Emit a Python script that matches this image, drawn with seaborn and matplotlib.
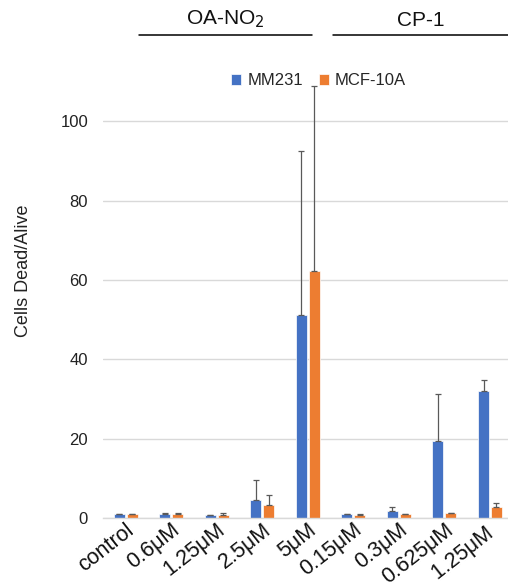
import matplotlib
matplotlib.use("Agg")
import matplotlib.pyplot as plt
import seaborn as sns
import pandas as pd
import numpy as np

categories = ["control", "0.6μM", "1.25μM", "2.5μM", "5μM", "0.15μM", "0.3μM", "0.625μM", "1.25μM "]
series = ["MM231", "MCF-10A"]
mm231 = [1.0, 1.0, 0.7, 4.5, 51.2, 0.9, 1.85, 19.3, 31.9]
mcf10a = [1.0, 1.0, 0.7, 3.3, 62.3, 0.7, 0.9, 1.2, 2.8]
mm231_err = [0.1, 0.2, 0.1, 5.2, 41.2, 0.1, 1.05, 11.9, 2.9]
mcf10a_err = [0.1, 0.15, 0.5, 2.6, 46.5, 0.4, 0.1, 0.1, 1.0]
colors = ["#4472C4", "#ED7D31"]

df = pd.DataFrame({
    "cat": categories * 2,
    "series": [series[0]] * len(categories) + [series[1]] * len(categories),
    "value": mm231 + mcf10a,
})

sns.set_theme(style="white")
plt.rcParams["font.family"] = ["Liberation Sans", "DejaVu Sans"]

fig = plt.figure(figsize=(5.08, 5.86), dpi=100)
ax = fig.add_axes([0.2028, 0.116, 0.7972, 0.7447])

sns.barplot(data=df, x="cat", y="value", hue="series", order=categories,
            hue_order=series, palette=colors, width=0.57, gap=0.15,
            errorbar=None, ax=ax, saturation=1, legend=True,
            edgecolor="white", linewidth=0.5)

# error bars (upward only)
errs = {series[0]: mm231_err, series[1]: mcf10a_err}
vals = {series[0]: mm231, series[1]: mcf10a}
n = len(categories)
patches = list(ax.patches)[:2 * n]
for si, s in enumerate(series):
    ps = patches[si * n:(si + 1) * n]
    xs = [p.get_x() + p.get_width() / 2 for p in ps]
    ax.errorbar(xs, vals[s], yerr=[np.zeros(n), errs[s]], fmt="none",
                ecolor="#595959", elinewidth=0.9, capsize=2.5, capthick=0.9, zorder=3)

ax.set_xlim(-0.494, 8.395)
ax.set_ylim(0, 110)
ax.set_yticks([0, 20, 40, 60, 80, 100])
ax.yaxis.grid(True, color="#d9d9d9", linewidth=1)
ax.set_axisbelow(True)
for sp in ["top", "right", "left"]:
    ax.spines[sp].set_visible(False)
ax.spines["bottom"].set_color("#d9d9d9")
ax.spines["bottom"].set_linewidth(1)
ax.tick_params(axis="y", length=0, labelsize=12, labelcolor="#222222", pad=10.8)
ax.tick_params(axis="x", length=0, labelsize=15.5, labelcolor="#111111", pad=1)
plt.setp(ax.get_xticklabels(), rotation=38, ha="right", rotation_mode="anchor")
ax.set_xlabel("")
ax.set_ylabel("Cells Dead/Alive", fontsize=13, color="#222222")
ax.yaxis.set_label_coords(-0.176, 0.566)

leg = ax.legend(loc="center", bbox_to_anchor=(0.627, 0.862), bbox_transform=fig.transFigure,
                ncol=2, frameon=False, fontsize=12, handlelength=0.6, handleheight=0.6,
                handletextpad=0.35, columnspacing=0.95, borderpad=0)

# group annotations
trans = matplotlib.transforms.blended_transform_factory(ax.transData, fig.transFigure)
groups = [("OA-NO$_2$", 0.30, 4.09), ("CP-1", 4.55, 8.39)]
for label, x0, x1 in groups:
    ax.plot([x0, x1], [1 - 35 / 586, 1 - 35 / 586], transform=trans, color="black", lw=1.1, clip_on=False)
    ax.text((x0 + x1) / 2, 1 - 30 / 586, label, transform=trans, ha="center", va="bottom",
            fontsize=15, color="#111111")

fig.savefig("out.png", dpi=100)
